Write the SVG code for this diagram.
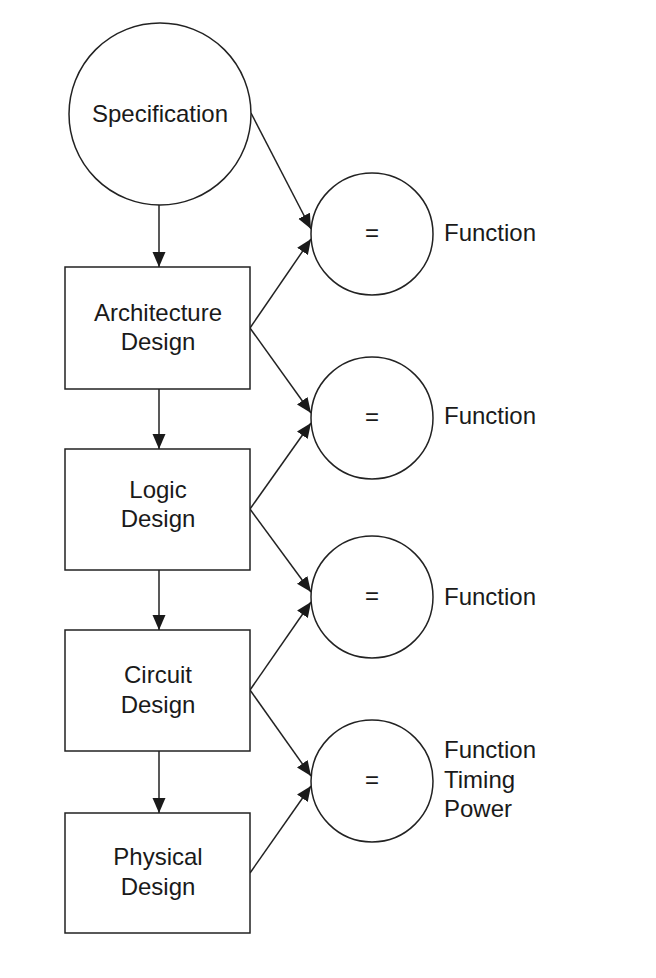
<svg xmlns="http://www.w3.org/2000/svg" width="656" height="978" viewBox="0 0 656 978">
<defs>
<marker id="ah" markerUnits="userSpaceOnUse" markerWidth="15" markerHeight="14" refX="15" refY="7" orient="auto">
<path d="M0,0.5 L15,7 L0,13.5 Z" fill="#1a1a1a"/>
</marker>
<style>
.shape{fill:#fff;stroke:#222;stroke-width:1.5}
.t{font-family:"Liberation Sans",Arial,sans-serif;font-size:24px;fill:#1a1a1a;text-anchor:middle}
.l{font-family:"Liberation Sans",Arial,sans-serif;font-size:24px;fill:#1a1a1a}
.c{fill:none;stroke:#222;stroke-width:1.5;marker-end:url(#ah)}
</style>
</defs>
<rect width="656" height="978" fill="#fff"/>
<g id="connectors">
<line class="c" x1="159" y1="205" x2="159" y2="267"/>
<line class="c" x1="159" y1="389" x2="159" y2="449"/>
<line class="c" x1="159" y1="570" x2="159" y2="630"/>
<line class="c" x1="159" y1="751" x2="159" y2="813"/>
<line class="c" x1="251" y1="113" x2="311" y2="229"/>
<line class="c" x1="250" y1="328" x2="311" y2="239"/>
<line class="c" x1="250" y1="328" x2="311" y2="413"/>
<line class="c" x1="250" y1="509" x2="311" y2="423"/>
<line class="c" x1="250" y1="509" x2="311" y2="592"/>
<line class="c" x1="250" y1="690" x2="311" y2="602"/>
<line class="c" x1="250" y1="690" x2="311" y2="776"/>
<line class="c" x1="250" y1="873" x2="311" y2="786"/>
</g>
<g id="spec">
<circle class="shape" cx="160" cy="114" r="91"/>
<text class="t" x="160" y="122">Specification</text>
</g>
<g id="arch">
<rect class="shape" x="65" y="267" width="185" height="122"/>
<text class="t" x="158" y="321">Architecture</text>
<text class="t" x="158" y="350">Design</text>
</g>
<g id="logic">
<rect class="shape" x="65" y="449" width="185" height="121"/>
<text class="t" x="158" y="498">Logic</text>
<text class="t" x="158" y="527">Design</text>
</g>
<g id="circuit">
<rect class="shape" x="65" y="630" width="185" height="121"/>
<text class="t" x="158" y="683">Circuit</text>
<text class="t" x="158" y="713">Design</text>
</g>
<g id="physical">
<rect class="shape" x="65" y="813" width="185" height="120"/>
<text class="t" x="158" y="865">Physical</text>
<text class="t" x="158" y="895">Design</text>
</g>
<g id="eq1">
<circle class="shape" cx="372" cy="234" r="61"/>
<text class="t" x="372" y="241">=</text>
<text class="l" x="444" y="241">Function</text>
</g>
<g id="eq2">
<circle class="shape" cx="372" cy="418" r="61"/>
<text class="t" x="372" y="425">=</text>
<text class="l" x="444" y="424">Function</text>
</g>
<g id="eq3">
<circle class="shape" cx="372" cy="597" r="61"/>
<text class="t" x="372" y="604">=</text>
<text class="l" x="444" y="605">Function</text>
</g>
<g id="eq4">
<circle class="shape" cx="372" cy="781" r="61"/>
<text class="t" x="372" y="788">=</text>
<text class="l" x="444" y="758">Function</text>
<text class="l" x="444" y="788">Timing</text>
<text class="l" x="444" y="817">Power</text>
</g>
</svg>
